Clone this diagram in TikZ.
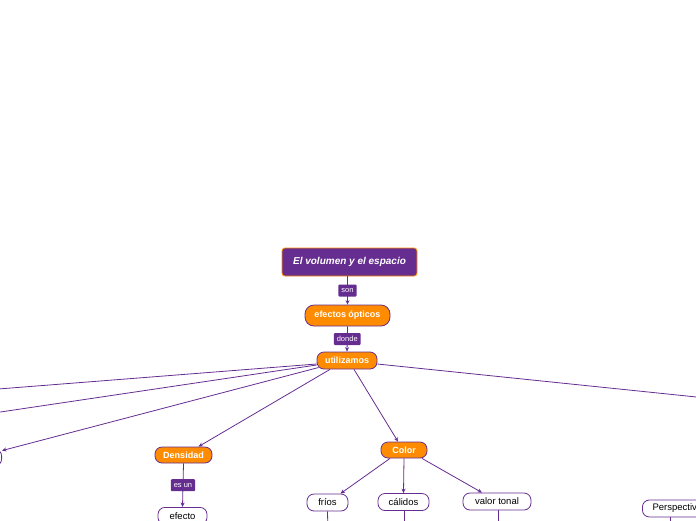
\documentclass[tikz,border=0pt]{standalone}
\usepackage{fontspec}
\setmainfont{Liberation Sans}
\usetikzlibrary{arrows.meta}
\definecolor{mpurple}{HTML}{662D91}
\definecolor{morange}{HTML}{FF8C00}
\begin{document}
\begin{tikzpicture}[x=1pt,y=-1pt,
 conn/.style={draw=mpurple, line width=0.8pt},
 arr/.style={conn, -{Stealth[length=4.5pt,width=4pt]}},
 titlebox/.style={fill=mpurple, draw=morange, line width=0.8pt, rounded corners=3pt, text=white, font=\bfseries\itshape\fontsize{10}{12}\selectfont, minimum width=135pt, minimum height=28pt, inner sep=0pt},
 orangepill/.style={fill=morange, draw=mpurple, line width=0.8pt, rounded corners=7pt, text=white, font=\bfseries\fontsize{9}{11}\selectfont, minimum height=17pt, inner sep=0pt},
 whitepill/.style={fill=white, draw=mpurple, line width=0.8pt, rounded corners=7pt, text=black, font=\fontsize{9.5}{11}\selectfont, minimum height=17pt, inner sep=0pt},
 tag/.style={fill=mpurple, text=white, font=\fontsize{7.5}{9}\selectfont, minimum height=12pt, inner xsep=3pt, inner ysep=0pt, rounded corners=1pt}
]
\useasboundingbox (0,0) rectangle (696,520);
\clip (0,0) rectangle (696,520);

% free ends off the picture
\coordinate (L1) at (-40,392);
\coordinate (L2) at (-40,418);
\coordinate (R1) at (740,401.5);

% nodes
\node[titlebox] (title) at (349.5,262) {El volumen y el espacio};
\node[orangepill, minimum width=85pt, minimum height=21pt, rounded corners=9pt] (efectos) at (347.5,315.5) {efectos ópticos};
\node[orangepill, minimum width=60pt] (util) at (347,360.5) {utilizamos};
\node[orangepill, minimum width=57pt, minimum height=16pt] (dens) at (183.5,455) {Densidad};
\node[orangepill, minimum width=46pt, minimum height=16pt] (color) at (404,450) {Color};
\node[whitepill, minimum width=41pt] (frios) at (327.5,502.5) {fríos};
\node[whitepill, minimum width=51pt] (calidos) at (403.5,502) {cálidos};
\node[whitepill, minimum width=68pt] (valor) at (497,501.5) {valor tonal};
\node[whitepill, minimum width=49pt, anchor=north] (efecto) at (182.5,507) {efecto};
\node[whitepill, minimum width=70pt, anchor=west] (persp) at (642,508.5) {Perspectiva};
\node[whitepill, minimum width=60pt, anchor=east] (leftn) at (2,457.5) {};

\coordinate (D1) at (328,535);
\coordinate (D2) at (404,535);
\coordinate (D3) at (498,535);
\coordinate (D4) at (670,535);

% connectors
\draw[arr] (efectos.north |- title.south) -- (efectos.north)
  node[tag, pos=0.5] (son) {son};
\draw[arr] (efectos.south) -- (util.north)
  node[tag, pos=0.5] (donde) {donde};
\draw[arr] (dens.south) -- (efecto.north)
  node[tag, pos=0.5] (esun) {es un};

\draw[conn] ([yshift=-3.5pt]util.west) -- (L1);
\draw[conn] ([yshift=-4.5pt]util.west) -- (L2);
\draw[arr] ([xshift=2pt,yshift=-7pt]util.west) -- ([yshift=-2pt]leftn.north east);
\draw[arr] ([xshift=-17pt]util.south) -- ([xshift=15pt]dens.north);
\draw[arr] ([xshift=7pt]util.south) -- ([xshift=-6pt]color.north);
\draw[conn] ([yshift=-3.5pt]util.east) -- (R1);

\draw[arr] ([xshift=-14pt]color.south) -- ([xshift=13pt]frios.north);
\draw[arr] (color.south) -- (calidos.north);
\draw[arr] ([xshift=18pt]color.south) -- ([xshift=-15pt]valor.north);

\draw[conn] (frios.south) -- (D1);
\draw[conn] (calidos.south -| D2) -- (D2);
\draw[conn] (valor.south -| D3) -- (D3);
\draw[conn] (persp.south -| D4) -- (D4);
\end{tikzpicture}
\end{document}
